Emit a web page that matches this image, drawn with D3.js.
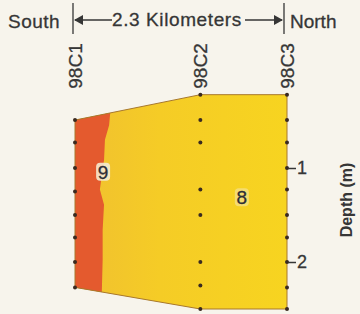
<!DOCTYPE html>
<html><head><meta charset="utf-8">
<script src="https://cdn.jsdelivr.net/npm/d3@7"></script>
<style>
html,body{margin:0;padding:0;background:#f7f4ec;}
svg{display:block;font-family:"Liberation Sans",Arial,sans-serif;}
</style></head>
<body><div id="chart"></div>
<script>
// Stations (distance along transect in km)
const stations = ["98C1", "98C2", "98C3"];
const stationKm = [0, 1.36, 2.3];
// Section outline: top and bottom depths (m) at each station
const topDepth = [-0.49, -0.22, -0.22];
const bottomDepth = [-2.27, -2.5, -2.5];
// Sample depths (m) at each station
const samples = [
  [-0.49, -0.73, -1.0, -1.25, -1.5, -1.74, -2.0, -2.27],
  [-0.22, -0.49, -0.73, -1.23, -1.5, -2.0, -2.25, -2.5],
  [-0.22, -0.49, -0.73, -1.0, -1.23, -1.5, -1.74, -2.0, -2.27, -2.5]
];
// Boundary between zone 9 (south) and zone 8: [km, depth]
const boundaryKm = [0.39, 0.37, 0.325, 0.315, 0.27, 0.315, 0.30, 0.30, 0.29];
const boundaryDepth = [-0.33, -0.545, -0.70, -0.915, -1.23, -1.39, -1.66, -1.98, -2.35];
// Zone labels
const zoneLabels = ["9", "8"];
const zoneKm = [0.305, 1.81];
const zoneDepth = [-1.04, -1.31];
// Depth ticks
const depthTicks = [-1, -2];
const totalKmLabel = "2.3 Kilometers";

const W = 360, H = 314;
const ink = "#363636";
const svg = d3.select("#chart").append("svg").attr("width", W).attr("height", H);
svg.append("rect").attr("width", W).attr("height", H).attr("fill", "#f7f4ec");

const x = d3.scaleLinear().domain([0, 2.3]).range([75, 287]);
const y = d3.scaleLinear().domain([0, -1]).range([74, 168]);

const defs = svg.append("defs");
const outline = stationKm.map((k, i) => [x(k), y(topDepth[i])])
  .concat(stationKm.map((k, i) => [x(k), y(bottomDepth[i])]).reverse());
const line = d3.line();
defs.append("clipPath").attr("id", "sec").append("path").attr("d", line(outline) + "Z");

const grad = defs.append("linearGradient").attr("id", "yg").attr("x1", "0").attr("x2", "1").attr("y1", "0").attr("y2", "0");
grad.append("stop").attr("offset", "0").attr("stop-color", "#f0c030");
grad.append("stop").attr("offset", "0.4").attr("stop-color", "#f5cc26");
grad.append("stop").attr("offset", "1").attr("stop-color", "#f7d420");

const g = svg.append("g").attr("clip-path", "url(#sec)");
g.append("rect").attr("x", x(0)).attr("y", y(0)).attr("width", x(2.3) - x(0)).attr("height", y(-2.6) - y(0))
  .attr("fill", "url(#yg)");
const bpts = boundaryKm.map((k, i) => [x(k), y(boundaryDepth[i])]);
const redPts = [[x(0) - 5, bpts[0][1] - 20], [bpts[0][0], bpts[0][1] - 20]].concat(bpts)
  .concat([[bpts[bpts.length - 1][0], y(-2.6)], [x(0) - 5, y(-2.6)]]);
g.append("path").attr("d", d3.line()(redPts) + "Z").attr("fill", "#e45a2e");

svg.append("path").attr("d", line(outline) + "Z").attr("fill", "none")
  .attr("stroke", "#a8782c").attr("stroke-width", 1);

samples.forEach((arr, i) => {
  svg.selectAll(null).data(arr).enter().append("circle")
    .attr("cx", x(stationKm[i])).attr("cy", d => y(d)).attr("r", 2)
    .attr("fill", "#3a2a20");
});

// zone labels
zoneLabels.forEach((t, i) => {
  const cx = x(zoneKm[i]), cy = y(zoneDepth[i]);
  svg.append("rect").attr("x", cx - 7).attr("y", cy - 9).attr("width", 14).attr("height", 18).attr("rx", 4)
    .attr("fill", "#f4ead0").attr("opacity", i === 0 ? 0.9 : 0.45);
  svg.append("text").attr("x", cx).attr("y", cy + 7).attr("text-anchor", "middle")
    .attr("font-size", 19).attr("fill", "#2e2e36").attr("stroke", "#2e2e36").attr("stroke-width", 0.3).text(t);
});

// station labels
stations.forEach((s, i) => {
  const bx = x(stationKm[i]) + 7;
  svg.append("text").attr("transform", `translate(${bx},66) rotate(-90)`)
    .attr("text-anchor", "middle").attr("font-size", 19).attr("fill", ink)
    .attr("stroke", ink).attr("stroke-width", 0.3).text(s);
});

// depth axis
const axis = d3.axisRight(y).tickValues(depthTicks).tickSize(8).tickPadding(1).tickFormat(d => Math.abs(d));
const ag = svg.append("g").attr("transform", `translate(${x(2.3) + 1},0)`).call(axis);
ag.select(".domain").remove();
ag.selectAll(".tick line").attr("stroke", ink).attr("stroke-width", 1.5);
ag.selectAll(".tick text").attr("font-size", 18).attr("fill", ink).attr("stroke", ink).attr("stroke-width", 0.3)
  .attr("font-family", "Liberation Sans, Arial, sans-serif");
svg.append("text").attr("transform", `translate(352,200) rotate(-90)`)
  .attr("text-anchor", "middle").attr("font-size", 16).attr("font-weight", "bold").attr("fill", ink)
  .text("Depth (m)");

// top distance bar
const xl = x(0) - 2, xr = x(2.3) - 3;
const barY = 20;
const topG = svg.append("g").attr("font-size", 19).attr("fill", ink).attr("stroke", ink).attr("stroke-width", 0.3);
svg.append("line").attr("x1", xl).attr("x2", xl).attr("y1", 3).attr("y2", 34).attr("stroke", ink).attr("stroke-width", 1.3);
svg.append("line").attr("x1", xr).attr("x2", xr).attr("y1", 3).attr("y2", 34).attr("stroke", ink).attr("stroke-width", 1.3);
topG.append("text").attr("x", 8).attr("y", 28).attr("letter-spacing", 0.5).text("South");
topG.append("text").attr("x", xr + 6).attr("y", 28).text("North");
topG.append("text").attr("x", 112).attr("y", 26).attr("letter-spacing", 0.6).text(totalKmLabel);
svg.append("line").attr("x1", xl + 2).attr("x2", 112).attr("y1", barY).attr("y2", barY).attr("stroke", ink).attr("stroke-width", 1.3);
svg.append("line").attr("x1", 245).attr("x2", xr - 2).attr("y1", barY).attr("y2", barY).attr("stroke", ink).attr("stroke-width", 1.3);
svg.append("path").attr("d", `M${xl + 1},${barY} L${xl + 10},${barY - 5} L${xl + 10},${barY + 5} Z`).attr("fill", ink);
svg.append("path").attr("d", `M${xr - 1},${barY} L${xr - 10},${barY - 5} L${xr - 10},${barY + 5} Z`).attr("fill", ink);
</script></body></html>
